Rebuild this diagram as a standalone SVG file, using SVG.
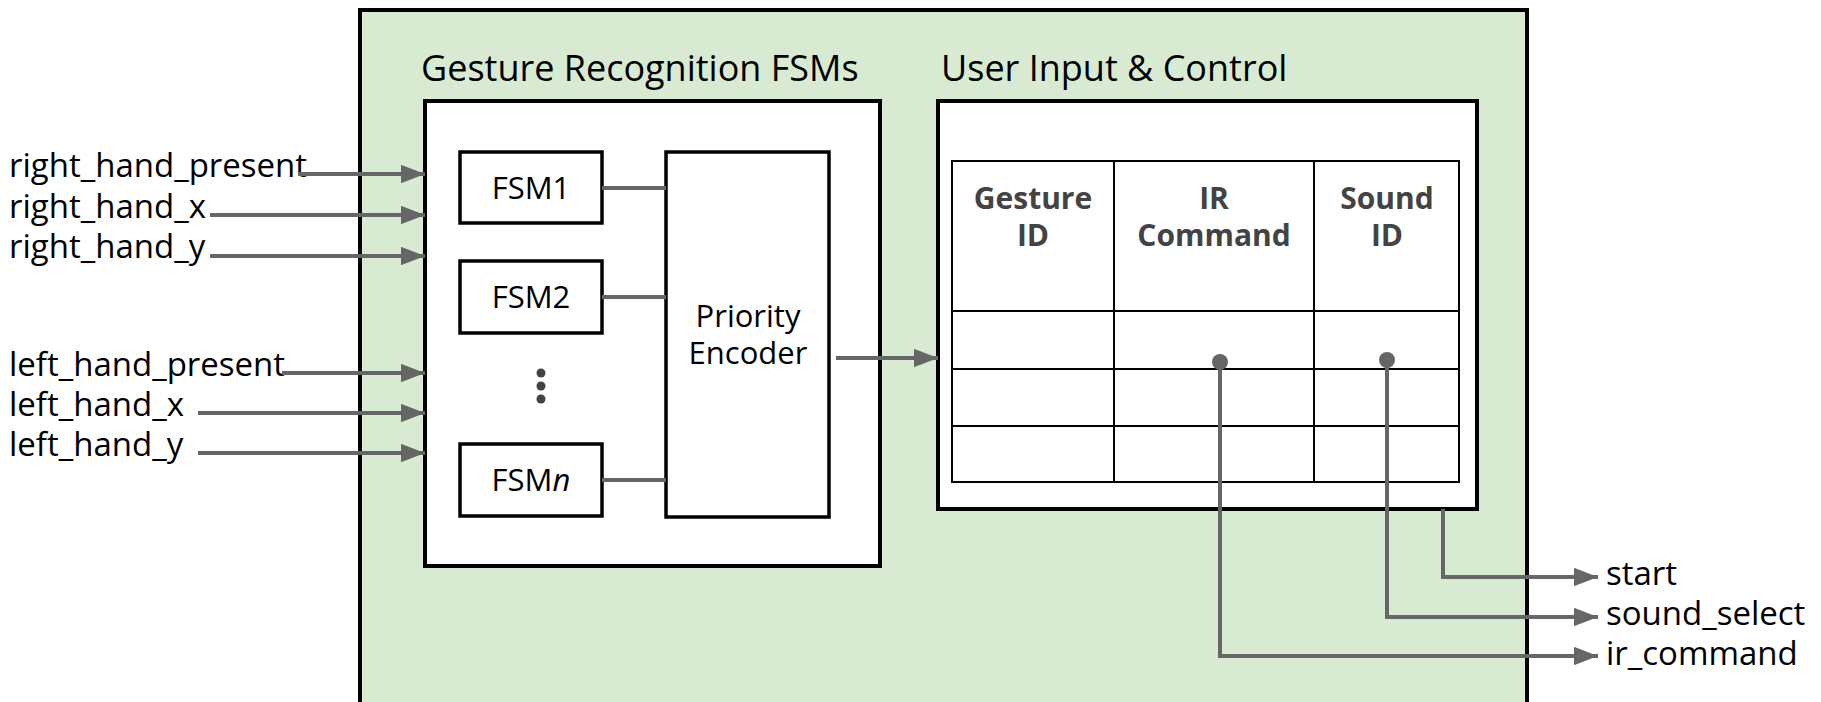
<svg xmlns="http://www.w3.org/2000/svg" width="1821" height="702" viewBox="0 0 1821 702">
  <defs>
    <marker id="arrow" markerWidth="6" markerHeight="4.6" refX="6" refY="2.3" orient="auto" markerUnits="strokeWidth">
      <path d="M0,0 L6,2.3 L0,4.6 Z" fill="#666666"/>
    </marker>
    <style>
      text { font-family: "Open Sans", "Noto Sans", "Liberation Sans", sans-serif; fill: #000000; }
      .sig { font-size: 33px; }
      .title { font-size: 36px; }
      .lbl { font-size: 31px; text-anchor: middle; }
      .hdr { font-size: 30px; font-weight: bold; fill: #434343; text-anchor: middle; }
      .box { fill: #ffffff; stroke: #000000; stroke-width: 4; }
      .fsm { fill: #ffffff; stroke: #000000; stroke-width: 3.5; }
      .grid { fill: none; stroke: #000000; stroke-width: 2; }
      .wire { fill: none; stroke: #666666; stroke-width: 4; }
      .arr { fill: none; stroke: #666666; stroke-width: 4; marker-end: url(#arrow); }
    </style>
  </defs>

  <!-- top-level module -->
  <g id="top">
    <rect x="360" y="10" width="1167" height="720" fill="#d9ead3" stroke="#000000" stroke-width="4"/>
  </g>

  <!-- gesture recognition block -->
  <g id="gesture-fsms">
    <text class="title" x="421" y="81">Gesture Recognition FSMs</text>
    <rect class="box" x="425" y="101" width="455" height="465"/>
  </g>

  <g id="fsm1">
    <rect class="fsm" x="460" y="152" width="142" height="71"/>
    <text class="lbl" x="531" y="199">FSM1</text>
  </g>
  <g id="fsm2">
    <rect class="fsm" x="460" y="261" width="142" height="72"/>
    <text class="lbl" x="531" y="308">FSM2</text>
  </g>
  <g id="ellipsis">
    <circle cx="541" cy="373" r="4.5" fill="#434343"/>
    <circle cx="541" cy="386" r="4.5" fill="#434343"/>
    <circle cx="541" cy="399" r="4.5" fill="#434343"/>
  </g>
  <g id="fsmn">
    <rect class="fsm" x="460" y="444" width="142" height="72"/>
    <text class="lbl" x="531" y="491">FSM<tspan font-style="italic">n</tspan></text>
  </g>
  <g id="priority-encoder">
    <rect class="fsm" x="666" y="152" width="163" height="365"/>
    <text class="lbl" x="748" y="327">Priority</text>
    <text class="lbl" x="748" y="364">Encoder</text>
  </g>

  <!-- user input and control block -->
  <g id="user-input">
    <text class="title" x="941" y="81">User Input &amp; Control</text>
    <rect class="box" x="938" y="101" width="539" height="408"/>
  </g>
  <g id="lookup-table">
    <rect class="grid" x="952" y="161" width="507" height="321" fill="#ffffff"/>
    <line class="grid" x1="1114" y1="161" x2="1114" y2="482"/>
    <line class="grid" x1="1314" y1="161" x2="1314" y2="482"/>
    <line class="grid" x1="952" y1="311" x2="1459" y2="311"/>
    <line class="grid" x1="952" y1="369" x2="1459" y2="369"/>
    <line class="grid" x1="952" y1="426" x2="1459" y2="426"/>
    <text class="hdr" x="1033" y="209">Gesture</text>
    <text class="hdr" x="1033" y="246">ID</text>
    <text class="hdr" x="1214" y="209">IR</text>
    <text class="hdr" x="1214" y="246">Command</text>
    <text class="hdr" x="1387" y="209">Sound</text>
    <text class="hdr" x="1387" y="246">ID</text>
  </g>

  <!-- input signals -->
  <g id="inputs">
    <text class="sig" x="9" y="177">right_hand_present</text>
    <text class="sig" x="9" y="218">right_hand_x</text>
    <text class="sig" x="9" y="258">right_hand_y</text>
    <text class="sig" x="9" y="376">left_hand_present</text>
    <text class="sig" x="9" y="416">left_hand_x</text>
    <text class="sig" x="9" y="456">left_hand_y</text>
  </g>

  <!-- output signals -->
  <g id="outputs">
    <text class="sig" x="1606" y="585">start</text>
    <text class="sig" x="1606" y="625">sound_select</text>
    <text class="sig" x="1606" y="665">ir_command</text>
  </g>

  <!-- connectors -->
  <g id="connectors">
    <line class="arr" x1="298" y1="174" x2="425" y2="174"/>
    <line class="arr" x1="210" y1="215" x2="425" y2="215"/>
    <line class="arr" x1="210" y1="256" x2="425" y2="256"/>
    <line class="arr" x1="282" y1="373" x2="425" y2="373"/>
    <line class="arr" x1="198" y1="413" x2="425" y2="413"/>
    <line class="arr" x1="198" y1="453" x2="425" y2="453"/>

    <line class="wire" x1="602" y1="188" x2="666" y2="188"/>
    <line class="wire" x1="602" y1="297" x2="666" y2="297"/>
    <line class="wire" x1="602" y1="480" x2="666" y2="480"/>

    <line class="arr" x1="836" y1="358" x2="938" y2="358"/>

    <path class="arr" d="M1443,509 V577 H1598"/>
    <circle cx="1387" cy="360" r="8" fill="#666666"/>
    <path class="arr" d="M1387,360 V617 H1598"/>
    <circle cx="1220" cy="362" r="8" fill="#666666"/>
    <path class="arr" d="M1220,362 V656 H1598"/>
  </g>
</svg>
